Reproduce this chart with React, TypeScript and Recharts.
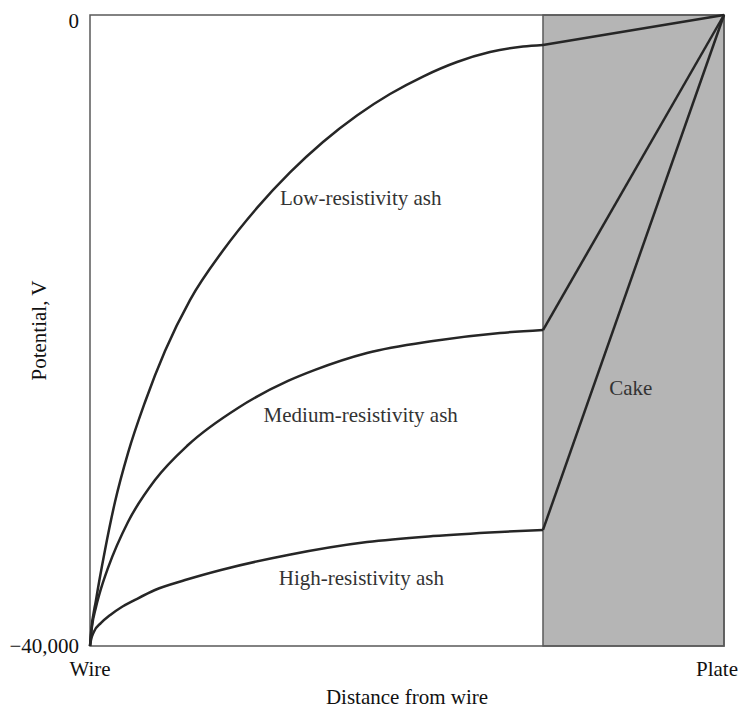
import React from 'react';
import { LineChart, Line, XAxis, YAxis, ReferenceArea, ReferenceDot, Label } from 'recharts';

// distance from wire (0 = wire, 100 = plate), potential in volts
const lowAsh = [
  { d: 0, v: -40000 },
  { d: 0.16, v: -39170 },
  { d: 0.95, v: -37080 },
  { d: 2.37, v: -33910 },
  { d: 3.94, v: -30870 },
  { d: 5.99, v: -27770 },
  { d: 8.68, v: -24530 },
  { d: 11.83, v: -21300 },
  { d: 15.77, v: -18070 },
  { d: 20.98, v: -14930 },
  { d: 26.34, v: -12230 },
  { d: 31.55, v: -9980 },
  { d: 36.75, v: -8050 },
  { d: 42.11, v: -6370 },
  { d: 47.32, v: -5010 },
  { d: 52.52, v: -3900 },
  { d: 57.89, v: -2980 },
  { d: 63.09, v: -2350 },
  { d: 68.3, v: -2000 },
  { d: 71.45, v: -1900 },
];

const mediumAsh = [
  { d: 0, v: -40000 },
  { d: 0.3, v: -38800 },
  { d: 0.95, v: -37530 },
  { d: 1.8, v: -36280 },
  { d: 2.84, v: -35050 },
  { d: 5.99, v: -32140 },
  { d: 10.25, v: -29480 },
  { d: 15.46, v: -27260 },
  { d: 23.34, v: -24910 },
  { d: 31.23, v: -23200 },
  { d: 35.49, v: -22500 },
  { d: 43.69, v: -21430 },
  { d: 54.1, v: -20670 },
  { d: 64.67, v: -20160 },
  { d: 71.45, v: -19970 },
];

const highAsh = [
  { d: 0, v: -40000 },
  { d: 0.16, v: -39620 },
  { d: 0.6, v: -39110 },
  { d: 1.74, v: -38540 },
  { d: 3.2, v: -38030 },
  { d: 4.89, v: -37560 },
  { d: 7.1, v: -37080 },
  { d: 10.25, v: -36450 },
  { d: 15.0, v: -35820 },
  { d: 20.66, v: -35180 },
  { d: 31.23, v: -34230 },
  { d: 43.69, v: -33410 },
  { d: 54.1, v: -33030 },
  { d: 64.67, v: -32770 },
  { d: 71.45, v: -32640 },
];

const cakeStart = 71.45;
const plate = { d: 100, v: 0 };

const xTicks = [0, 100];
const xTickLabels: Record<number, string> = { 0: 'Wire', 100: 'Plate' };
const yTicks = [-40000, 0];
const yTickLabels: Record<number, string> = { [-40000]: '\u221240,000', 0: '0' };

const regionLabels = [
  { text: 'Low-resistivity ash', d: 42.7, v: -11600 },
  { text: 'Medium-resistivity ash', d: 42.7, v: -25350 },
  { text: 'High-resistivity ash', d: 42.8, v: -35650 },
  { text: 'Cake', d: 85.3, v: -23600 },
];

const FONT = '"Liberation Serif", "DejaVu Serif", serif';
const LINE = '#262626';

const cakeLine = (series: { d: number; v: number }[]) => [series[series.length - 1], plate];

// "Plate" sits at the right edge, so it is right-aligned to stay inside the page
const XTick = (props: any) => {
  const { x, y, payload } = props;
  const last = payload.value === 100;
  return (
    <text
      x={last ? x + 14 : x}
      y={y}
      dy="0.71em"
      textAnchor={last ? 'end' : 'middle'}
      fontSize={21}
      fill="#111"
      fontFamily={FONT}
    >
      {xTickLabels[payload.value]}
    </text>
  );
};

export default function App() {
  return (
    <LineChart
      width={731}
      height={700}
      margin={{ top: 7, right: 15, left: 0, bottom: 0 }}
      style={{ fontFamily: FONT }}
    >
      <XAxis
        type="number"
        dataKey="d"
        domain={[0, 100]}
        ticks={xTicks}
        axisLine={false}
        tickLine={false}
        tickMargin={9}
        height={62}
        tick={<XTick />}
      >
        <Label
          value="Distance from wire"
          position="insideBottom"
          offset={4}
          style={{ fontSize: 21, fill: '#111', fontFamily: FONT }}
        />
      </XAxis>
      <YAxis
        type="number"
        domain={[-40000, 0]}
        ticks={yTicks}
        tickFormatter={(t: number) => yTickLabels[t]}
        axisLine={false}
        tickLine={false}
        tickMargin={5}
        width={82}
        tick={{ fontSize: 21, fill: '#111', fontFamily: FONT }}
      >
        <Label
          value="Potential, V"
          angle={-90}
          position="insideLeft"
          offset={31}
          style={{ fontSize: 21, fill: '#111', fontFamily: FONT, textAnchor: 'middle' }}
        />
      </YAxis>

      <ReferenceArea x1={cakeStart} x2={100} y1={-40000} y2={0} fill="#b5b5b5" fillOpacity={1} stroke="none" />
      <ReferenceArea x1={0} x2={100} y1={-40000} y2={0} fill="none" stroke="#5a5a5a" strokeWidth={1.5} />
      <ReferenceArea x1={cakeStart} x2={100} y1={-40000} y2={0} fill="none" stroke="#5a5a5a" strokeWidth={1.5} />

      <Line data={lowAsh} dataKey="v" type="monotone" stroke={LINE} strokeWidth={2.5} dot={false} isAnimationActive={false} />
      <Line data={mediumAsh} dataKey="v" type="monotone" stroke={LINE} strokeWidth={2.5} dot={false} isAnimationActive={false} />
      <Line data={highAsh} dataKey="v" type="monotone" stroke={LINE} strokeWidth={2.5} dot={false} isAnimationActive={false} />
      <Line data={cakeLine(lowAsh)} dataKey="v" type="linear" stroke={LINE} strokeWidth={2.5} dot={false} isAnimationActive={false} />
      <Line data={cakeLine(mediumAsh)} dataKey="v" type="linear" stroke={LINE} strokeWidth={2.5} dot={false} isAnimationActive={false} />
      <Line data={cakeLine(highAsh)} dataKey="v" type="linear" stroke={LINE} strokeWidth={2.5} dot={false} isAnimationActive={false} />

      {regionLabels.map((l) => (
        <ReferenceDot key={l.text} x={l.d} y={l.v} r={0} fill="none" stroke="none">
          <Label value={l.text} position="center" style={{ fontSize: 21, fill: '#333', fontFamily: FONT }} />
        </ReferenceDot>
      ))}
    </LineChart>
  );
}
